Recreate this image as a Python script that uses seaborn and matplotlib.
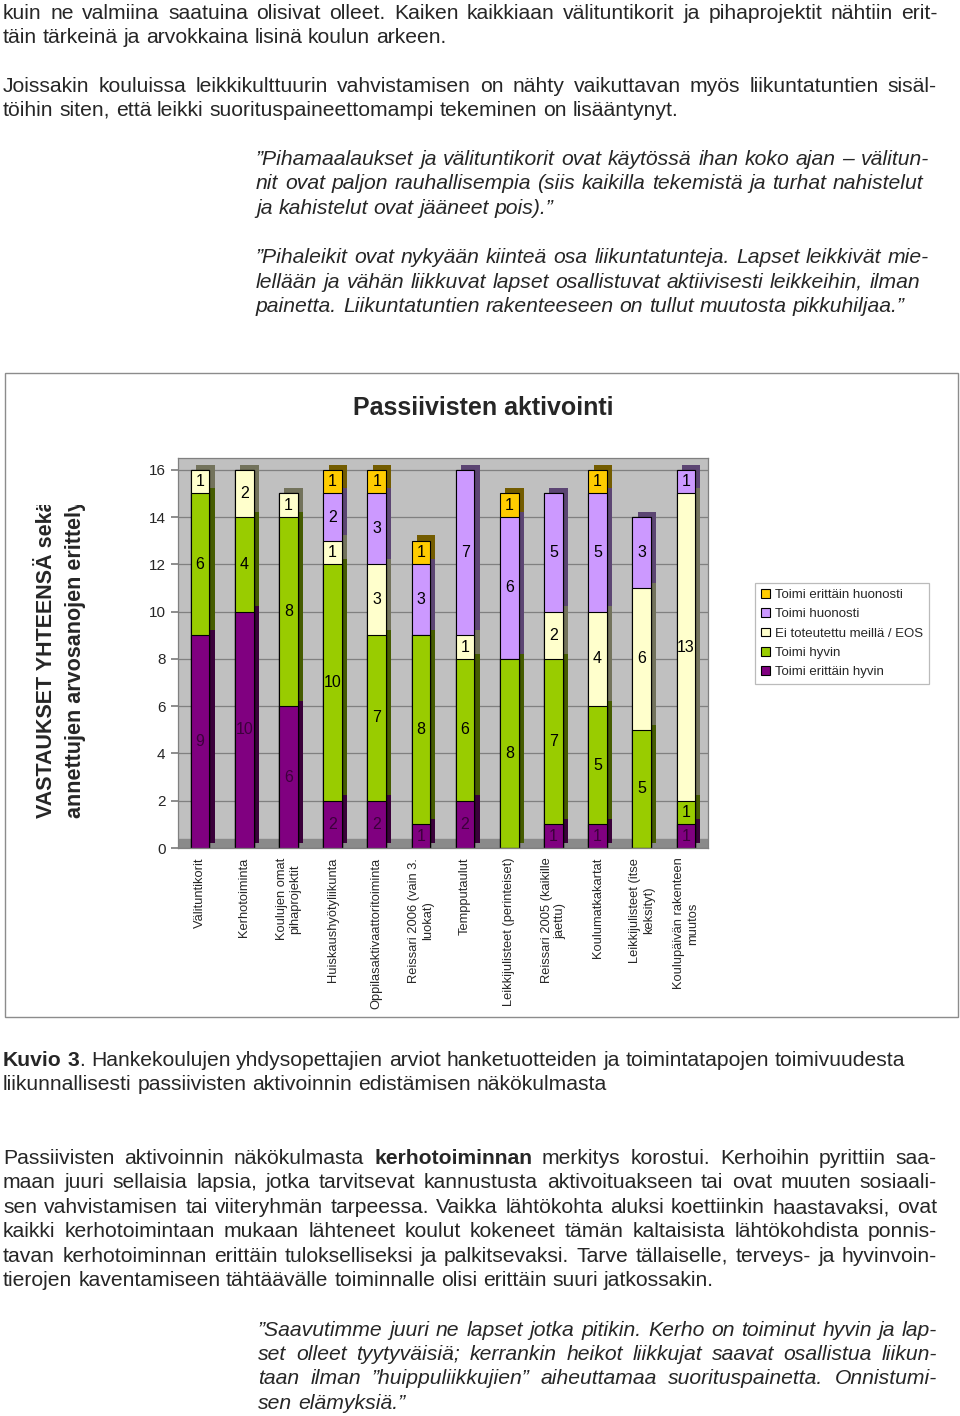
import matplotlib
matplotlib.use("Agg")
import matplotlib.pyplot as plt
from matplotlib import patheffects as pe
from matplotlib.patches import Patch, Rectangle
from matplotlib.transforms import Bbox
import numpy as np
import seaborn as sns

# ---------------- data ----------------
categories = [
    "Välituntikorit", "Kerhotoiminta", "Koulujen omat\npihaprojektit",
    "Huiskaushyötyliikunta", "Oppilasaktivaattoritoiminta",
    "Reissari 2006 (vain 3.\nluokat)", "Tempputaulut",
    "Leikkijulisteet (perinteiset)", "Reissari 2005 (kaikille\njaettu)",
    "Koulumatkakartat", "Leikkijulisteet (itse\nkeksityt)",
    "Koulupäivän rakenteen\nmuutos",
]
erittain_hyvin = [9, 10, 6, 2, 2, 1, 2, 0, 1, 1, 0, 1]
hyvin = [6, 4, 8, 10, 7, 8, 6, 8, 7, 5, 5, 1]
eos = [1, 2, 1, 1, 3, 0, 1, 0, 2, 4, 6, 13]
huonosti = [0, 0, 0, 2, 3, 3, 7, 6, 5, 5, 3, 1]
erittain_huonosti = [0, 0, 0, 1, 1, 1, 0, 1, 0, 1, 0, 0]

series_names = ["Toimi erittäin hyvin", "Toimi hyvin", "Ei toteutettu meillä / EOS",
                "Toimi huonosti", "Toimi erittäin huonosti"]
series_values = [erittain_hyvin, hyvin, eos, huonosti, erittain_huonosti]
series_colors = ["#800080", "#99cc00", "#ffffcc", "#cc99ff", "#ffcc00"]
label_colors = ["#3c003c", "black", "black", "black", "black"]
yticks = [0, 2, 4, 6, 8, 10, 12, 14, 16]

# ---------------- setup ----------------
W, H = 960, 1416
sns.set_theme(style="white")
plt.rcParams["font.family"] = ["Liberation Sans", "DejaVu Sans"]

fig = plt.figure(figsize=(W / 100, H / 100), dpi=100)
fig.patch.set_facecolor("white")
renderer = fig.canvas.get_renderer()


def fx(x):
    return x / W


def fy(y):
    return 1 - y / H


BODY = 15.2
BASE_OFF = 6


def measure(s, style="normal", weight="normal"):
    t = fig.text(0, 0, s, fontsize=BODY, style=style, weight=weight)
    w = t.get_window_extent(renderer).width
    t.remove()
    return w


def parse(line):
    words = []
    bold = False
    for w in line.split(" "):
        parts = w.split("**")
        pieces = []
        for k, p in enumerate(parts):
            if k > 0:
                bold = not bold
            if p:
                pieces.append((p, bold))
        words.append(pieces)
    return words


def draw_line(line, x0, y, x1=None, style="normal"):
    words = parse(line)
    space = measure("a a", style) - measure("aa", style)
    widths = [[measure(p, style, "bold" if b else "normal") for p, b in pcs] for pcs in words]
    total = sum(sum(w) for w in widths)
    n = len(words)
    gap = (x1 - x0 - total) / (n - 1) if (x1 is not None and n > 1) else space
    x = x0
    for pcs, ws in zip(words, widths):
        for (p, b), w in zip(pcs, ws):
            fig.text(fx(x), fy(y + BASE_OFF), p, fontsize=BODY, style=style,
                     weight="bold" if b else "normal", ha="left", va="baseline")
            x += w
        x += gap


# ---------------- body text (top) ----------------
top_lines = [
    (13, "kuin ne valmiina saatuina olisivat olleet. Kaiken kaikkiaan välituntikorit ja pihaprojektit nähtiin erit-", 938),
    (37, "täin tärkeinä ja arvokkaina lisinä koulun arkeen.", None),
    (86, "Joissakin kouluissa leikkikulttuurin vahvistamisen on nähty vaikuttavan myös liikuntatuntien sisäl-", 937),
    (110, "töihin siten, että leikki suorituspaineettomampi tekeminen on lisääntynyt.", None),
]
for y, s, x1 in top_lines:
    draw_line(s, 3, y, x1)

quote1 = [
    (159, "”Pihamaalaukset ja välituntikorit ovat käytössä ihan koko ajan – välitun-", 929),
    (183, "nit ovat paljon rauhallisempia (siis kaikilla tekemistä ja turhat nahistelut", 923),
    (208, "ja kahistelut ovat jääneet pois).”", None),
    (257, "”Pihaleikit ovat nykyään kiinteä osa liikuntatunteja. Lapset leikkivät mie-", 929),
    (282, "lellään ja vähän liikkuvat lapset osallistuvat aktiivisesti leikkeihin, ilman", 920),
    (306, "painetta. Liikuntatuntien rakenteeseen on tullut muutosta pikkuhiljaa.”", None),
]
for y, s, x1 in quote1:
    draw_line(s, 256, y, x1, style="italic")

# ---------------- chart ----------------
fig.add_artist(Rectangle((fx(5), fy(1017)), (958 - 5) / W, (1017 - 373) / H,
                         transform=fig.transFigure, fill=False,
                         edgecolor="#8c8c8c", lw=1.0))
fig.text(fx(483), fy(408), "Passiivisten aktivointi", fontsize=18,
         weight="bold", ha="center", va="center")

ax = fig.add_axes([fx(178), fy(848), (708 - 178) / W, (848 - 458) / H])
ax.set_facecolor("#c0c0c0")
ax.set_axisbelow(True)

cum = np.cumsum(np.array(series_values), axis=0)
xlabels_plain = [c.replace("\n", " ") for c in categories]

# side/top faces (shadow pass)
for k in reversed(range(len(series_values))):
    sns.barplot(x=xlabels_plain, y=cum[k], color=series_colors[k], saturation=1,
                width=0.42, linewidth=0, ax=ax,
                path_effects=[pe.SimplePatchShadow(offset=(3.8, 3.8), rho=0.45, alpha=1)])
# front faces
for k in reversed(range(len(series_values))):
    sns.barplot(x=xlabels_plain, y=cum[k], color=series_colors[k], saturation=1,
                width=0.42, edgecolor="black", linewidth=0.8, ax=ax)

# segment labels
for k, vals in enumerate(series_values):
    base = cum[k] - np.array(vals)
    for i, v in enumerate(vals):
        if v > 0:
            ax.text(i, base[i] + v / 2, str(v), ha="center", va="center",
                    fontsize=11.5, color=label_colors[k], zorder=10)

ax.axhspan(0, 0.4, color="#8a8a8a", zorder=0.5)
ax.set_ylim(0, 16.5)
ax.set_xlim(-0.5, len(categories) - 0.5)
ax.set_yticks(yticks)
ax.set_yticklabels([str(t) for t in yticks], fontsize=11)
ax.yaxis.grid(True, color="#808080", lw=0.9)
ax.xaxis.grid(False)
ax.set_xticks(range(len(categories)))
ax.set_xticklabels(categories, rotation=90, fontsize=9.3, va="top", ha="center",
                   multialignment="center")
ax.set_xticks(np.arange(-0.5, len(categories), 1), minor=True)
ax.tick_params(axis="x", which="major", length=0, pad=7)
ax.tick_params(axis="x", which="minor", length=5, color="#808080", direction="out")
ax.tick_params(axis="y", length=5, color="#808080", pad=4, left=True, direction="out")
ax.set_xlabel("")
ax.set_ylabel("")
for s in ax.spines.values():
    s.set_color("#808080")
    s.set_linewidth(0.9)

# clipped y label
clip = Bbox.from_extents(0, H - 1017, W, H - 505)
for xx, txt in [(46, "VASTAUKSET YHTEENSÄ sekä"), (75, "annettujen arvosanojen erittely")]:
    t = fig.text(fx(xx), fy(818), txt, rotation=90, rotation_mode="anchor",
                 ha="left", va="center", fontsize=15.5, weight="bold")
    t.set_clip_box(clip)
    t.set_clip_on(True)

# legend
handles = [Patch(facecolor=series_colors[k], edgecolor="black", lw=0.8,
                 label=series_names[k]) for k in reversed(range(len(series_names)))]
leg = fig.legend(handles=handles, loc="upper left",
                 bbox_to_anchor=(fx(755), fy(583)), frameon=True, fancybox=False,
                 edgecolor="#aaaaaa", fontsize=9.5, handlelength=0.65,
                 handleheight=0.65, handletextpad=0.4, labelspacing=0.55,
                 borderpad=0.45, borderaxespad=0)
leg.get_frame().set_linewidth(0.9)

# ---------------- body text (bottom) ----------------
bottom_lines = [
    (1060, "**Kuvio 3**. Hankekoulujen yhdysopettajien arviot hanketuotteiden ja toimintatapojen toimivuudesta", None),
    (1084, "liikunnallisesti passiivisten aktivoinnin edistämisen näkökulmasta", None),
    (1158, "Passiivisten aktivoinnin näkökulmasta **kerhotoiminnan** merkitys korostui. Kerhoihin pyrittiin saa-", 937),
    (1182, "maan juuri sellaisia lapsia, jotka tarvitsevat kannustusta aktivoituakseen tai ovat muuten sosiaali-", 937),
    (1207, "sen vahvistamisen tai viiteryhmän tarpeessa. Vaikka lähtökohta aluksi koettiinkin haastavaksi, ovat", 937),
    (1231, "kaikki kerhotoimintaan mukaan lähteneet koulut kokeneet tämän kaltaisista lähtökohdista ponnis-", 937),
    (1256, "tavan kerhotoiminnan erittäin tulokselliseksi ja palkitsevaksi. Tarve tällaiselle, terveys- ja hyvinvoin-", 937),
    (1280, "tierojen kaventamiseen tähtäävälle toiminnalle olisi erittäin suuri jatkossakin.", None),
]
for y, s, x1 in bottom_lines:
    draw_line(s, 3, y, x1)

quote2 = [
    (1330, "”Saavutimme juuri ne lapset jotka pitikin. Kerho on toiminut hyvin ja lap-", 937),
    (1354, "set olleet tyytyväisiä; kerrankin heikot liikkujat saavat osallistua liikun-", 937),
    (1378, "taan ilman ”huippuliikkujien” aiheuttamaa suorituspainetta. Onnistumi-", 937),
    (1403, "sen elämyksiä.”", None),
]
for y, s, x1 in quote2:
    draw_line(s, 258, y, x1, style="italic")

fig.savefig("out.png", dpi=100, facecolor="white")
